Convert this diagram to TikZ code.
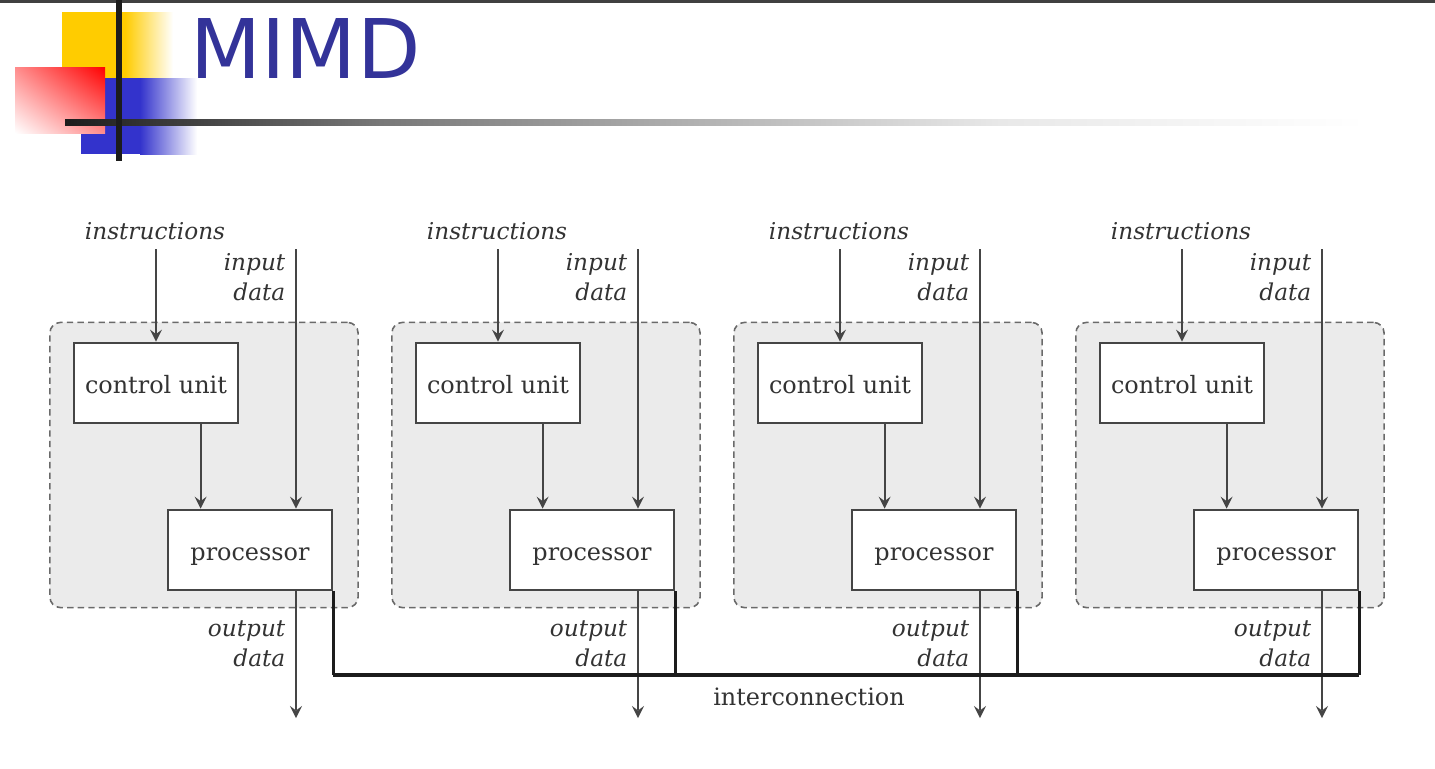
\documentclass[tikz,border=0pt]{standalone}
\usepackage{fontspec}
\setmainfont{DejaVu Serif}
\newfontfamily\titlefont{DejaVu Sans}
\usetikzlibrary{calc, positioning, shadings}
\definecolor{TitleBlue}{HTML}{333399}
\definecolor{LogoYellow}{HTML}{FFCC00}
\definecolor{LogoBlue}{HTML}{3333CC}
\definecolor{LogoRed}{HTML}{FF0000}
\definecolor{BarDark}{HTML}{1C1C1C}
\definecolor{UnitFill}{HTML}{EBEBEB}
\definecolor{LineGray}{HTML}{454545}
\definecolor{TextGray}{HTML}{333333}

\begin{document}
\begin{tikzpicture}[x=0.01cm, y=-0.01cm, >=stealth,
    unitbox/.style={draw=LineGray!80, dash pattern=on 1.8pt off 1.2pt, line width=0.45pt, fill=UnitFill, rounded corners=3pt, minimum width=3.08cm, minimum height=2.85cm},
    unitblock/.style={draw=LineGray, fill=white, line width=0.75pt, rectangle, minimum width=1.64cm, minimum height=0.8cm, inner sep=0pt, text height=1.5ex, text depth=0.3ex, text=TextGray, font=\fontsize{6.8}{8}\selectfont},
    flowlabel/.style={inner sep=0pt, text=TextGray, font=\itshape\fontsize{6.6}{8.5}\selectfont},
    flow/.style={->, draw=LineGray, line width=0.5pt},
    bus/.style={draw=BarDark, line width=0.9pt}]
  \useasboundingbox (0,0) rectangle (1435,769);

  % Header
  \fill[black!75] (0,0) rectangle (1435,3);
  \fill[LogoYellow] (62,12) rectangle (125,79);
  \shade[left color=LogoYellow, right color=white] (125,12) rectangle (173,79);
  \fill[LogoBlue] (81,78) rectangle (140,154);
  \shade[left color=LogoBlue, right color=white] (140,78) rectangle (197,154);
  \shade[upper right=LogoRed, upper left=LogoRed!45!white, lower right=LogoRed!45!white, lower left=white] (15,67) rectangle (105,133);
  \shade[left color=BarDark, right color=black!53] (65,119) rectangle (380,125);
  \shade[left color=black!53, right color=black!9] (380,119) rectangle (1000,125);
  \shade[left color=black!9, right color=white] (1000,119) rectangle (1365,125);
  \fill[BarDark] (116,0) rectangle (122,161);
  \node[anchor=base west, inner sep=0pt, text=TitleBlue, font=\titlefont\fontsize{23.4}{28}\selectfont] (title) at (190,78) {MIMD};

  % Units
  \coordinate (bus) at (0,675);
  \foreach \i/\dx in {1/0, 2/342, 3/684, 4/1026} {
    \node[unitbox] (unit\i) at (204+\dx, 465) {};
    \node[unitblock] (cu\i) at (156+\dx, 383) {control unit};
    \node[unitblock] (proc\i) at (250+\dx, 550) {processor};
    \coordinate (ins\i) at (156+\dx, 249);
    \coordinate (in\i) at (296+\dx, 249);
    \coordinate (out\i) at (296+\dx, 718);
    \coordinate (cp\i) at ($(proc\i.north west)+(34,0)$);
    \node[flowlabel] (inslabel\i) at (155+\dx, 231) {instructions};
    \node[flowlabel, anchor=east, align=right] (inlabel\i) at (286+\dx, 277) {input\\data};
    \node[flowlabel, anchor=east, align=right] (outlabel\i) at (286+\dx, 644) {output\\data};
    \draw[flow] (ins\i) -- (cu\i);
    \draw[flow] (in\i) -- (in\i |- proc\i.north);
    \draw[flow] (cp\i |- cu\i.south) -- (cp\i);
    \draw[flow] (in\i |- proc\i.south) -- (out\i);
    \draw[bus] (proc\i.south east) -- (proc\i.south east |- bus);
  }
  \draw[bus] (proc1.south east |- bus) -- (proc4.south east |- bus);
  \node[inner sep=0pt, text=TextGray, font=\fontsize{6.8}{8}\selectfont] (interconnect) at (809,697) {interconnection};
\end{tikzpicture}
\end{document}
